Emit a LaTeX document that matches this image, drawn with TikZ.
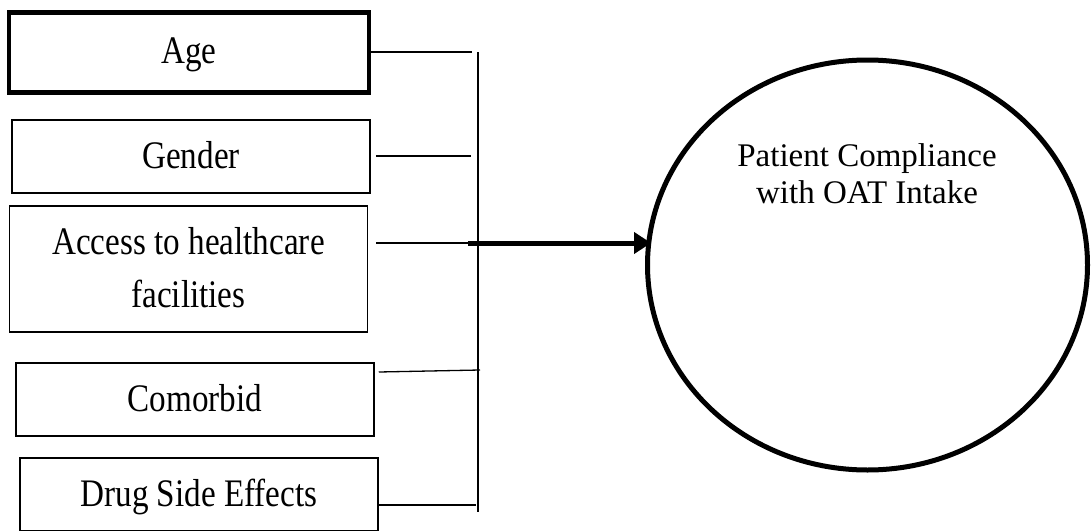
\documentclass[tikz,border=0pt]{standalone}
\usepackage{fontspec}
\setmainfont{Liberation Serif}
\newfontfamily\boxfont{Liberation Serif}[FakeStretch=0.85]
\usetikzlibrary{positioning}
\usetikzlibrary{shapes.geometric}
\usetikzlibrary{arrows.meta}
\tikzstyle{factor} = [draw, rectangle, line width=0.75pt, inner sep=0pt, minimum width=179pt, minimum height=36.5pt, text depth=2pt, align=center, font=\boxfont\fontsize{19.5}{26.5}\selectfont]
\tikzstyle{outcome} = [draw, ellipse, line width=2.5pt, inner sep=0pt, minimum width=220pt, minimum height=205pt]
\tikzstyle{link} = [line width=0.65pt]
\tikzstyle{junction} = [coordinate]

\begin{document}
\begin{tikzpicture}[x=0.5pt,y=-0.5pt]
    \useasboundingbox (0,0) rectangle (1092,530);
    \node [factor, line width=2.25pt, minimum width=180pt, minimum height=40pt] (age) at (189,52.5) {Age};
    \node [factor] (gender) at (191,156.5) {Gender};
    \node [factor, minimum height=63pt] (access) at (188.5,269) {Access to healthcare\\facilities};
    \node [factor] (comorbid) at (195,399.5) {Comorbid};
    \node [factor] (drug) at (199,494.5) {Drug Side Effects};

    \node [outcome] (compliance) at (867.5,265) {};
    \node [align=center, font=\fontsize{16.5}{18.5}\selectfont] (compliancetext) at (867,174) {Patient Compliance\\with OAT Intake};

    \node [junction] (j1) at (472,52) {};
    \node [junction] (j2) at (471,156) {};
    \node [junction] (j3) at (470,243) {};
    \node [junction] (j4) at (480,370) {};
    \node [junction] (j5) at (476,505) {};
    \node [junction] (bustop) at (478,52) {};
    \node [junction] (busbottom) at (478,512) {};
    \node [junction] (arrowstart) at (468,243) {};

    \draw [link] (age.east |- j1) -- (j1); % connections
    \draw [link] ([xshift=2.5pt]gender.east |- j2) -- (j2);
    \draw [link] ([xshift=4pt]access.east |- j3) -- (j3);
    \draw [link] ([xshift=2pt,yshift=-1pt]comorbid.east |- j4) -- (j4);
    \draw [link] (drug.east |- j5) -- (j5);
    \draw [line width=0.75pt] (bustop) -- (busbottom);

    \draw [-{Triangle[length=8.5pt,width=10.5pt]}, line width=2.5pt] (arrowstart) -- ([xshift=3pt]arrowstart -| compliance.west);
\end{tikzpicture}
\end{document}
